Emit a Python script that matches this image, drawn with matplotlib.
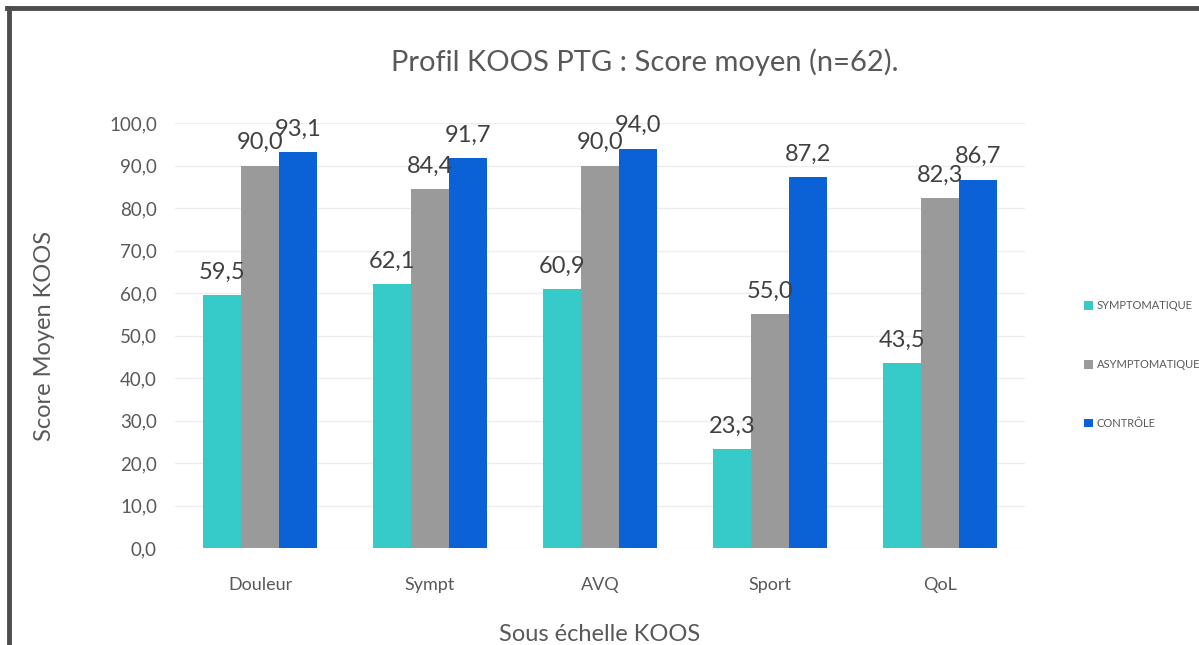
import numpy as np
import matplotlib
matplotlib.use("Agg")
from matplotlib import pyplot as plt
from matplotlib.lines import Line2D

plt.rcParams['font.family'] = ['Lato', 'DejaVu Sans']

categories = ['Douleur', 'Sympt', 'AVQ', 'Sport', 'QoL']
series_names = ['SYMPTOMATIQUE', 'ASYMPTOMATIQUE', 'CONTRÔLE']
symptomatique = [59.5, 62.1, 60.9, 23.3, 43.5]
asymptomatique = [90.0, 84.4, 90.0, 55.0, 82.3]
controle = [93.1, 91.7, 94.0, 87.2, 86.7]
yticks = [0, 10, 20, 30, 40, 50, 60, 70, 80, 90, 100]

colors = ['#36cbc8', '#9a9a9a', '#0b62d6']
values = [symptomatique, asymptomatique, controle]

fig = plt.figure(figsize=(11.99, 6.45), dpi=100)
ax = fig.add_axes([175 / 1199, 1 - 548 / 645, 850 / 1199, 425 / 645])

x = np.arange(len(categories))
w = 0.225
for i, (vals, name, c) in enumerate(zip(values, series_names, colors)):
    bars = ax.bar(x + (i - 1) * w, vals, width=w, color=c, label=name, zorder=2)
    ax.bar_label(bars, labels=[f"{v:.1f}".replace('.', ',') for v in vals],
                 padding=9, fontsize=17, color='#404040')

ax.set_xlim(-0.5, len(categories) - 0.5)
ax.set_ylim(0, 100)
ax.set_yticks(yticks)
ax.set_yticklabels([f"{v:.1f}".replace('.', ',') for v in yticks], fontsize=13.5, color='#595959')
ax.set_xticks(x)
ax.set_xticklabels(categories, fontsize=13, color='#595959')
ax.tick_params(axis='both', length=0)
ax.tick_params(axis='y', pad=13)
ax.tick_params(axis='x', pad=21)
ax.grid(axis='y', color='#ededed', linewidth=1, zorder=0)
for s in ax.spines.values():
    s.set_visible(False)

ax.set_xlabel('Sous échelle KOOS', fontsize=17, color='#595959', labelpad=22)
ax.set_ylabel('Score Moyen KOOS', fontsize=17, color='#595959', labelpad=39)
fig.text(645 / 1199, 1 - 62 / 645, 'Profil KOOS PTG : Score moyen (n=62).',
         ha='center', va='center', fontsize=21, color='#595959')

ax.legend(loc='upper left', bbox_to_anchor=(1080 / 1199, 1 - 296 / 645),
          bbox_transform=fig.transFigure, frameon=False, fontsize=8,
          handlelength=0.8, handleheight=0.8, handletextpad=0.3,
          labelspacing=4.3, labelcolor='#595959', borderaxespad=0)

# cadre
fig.add_artist(Line2D([8.5 / 1199, 8.5 / 1199], [0, 1 - 8 / 645],
                      transform=fig.transFigure, color='#4d4d4d', linewidth=3.5))
fig.add_artist(Line2D([7 / 1199, 1], [1 - 8 / 645, 1 - 8 / 645],
                      transform=fig.transFigure, color='#4d4d4d', linewidth=3.5))

fig.savefig('out.png', dpi=100)
